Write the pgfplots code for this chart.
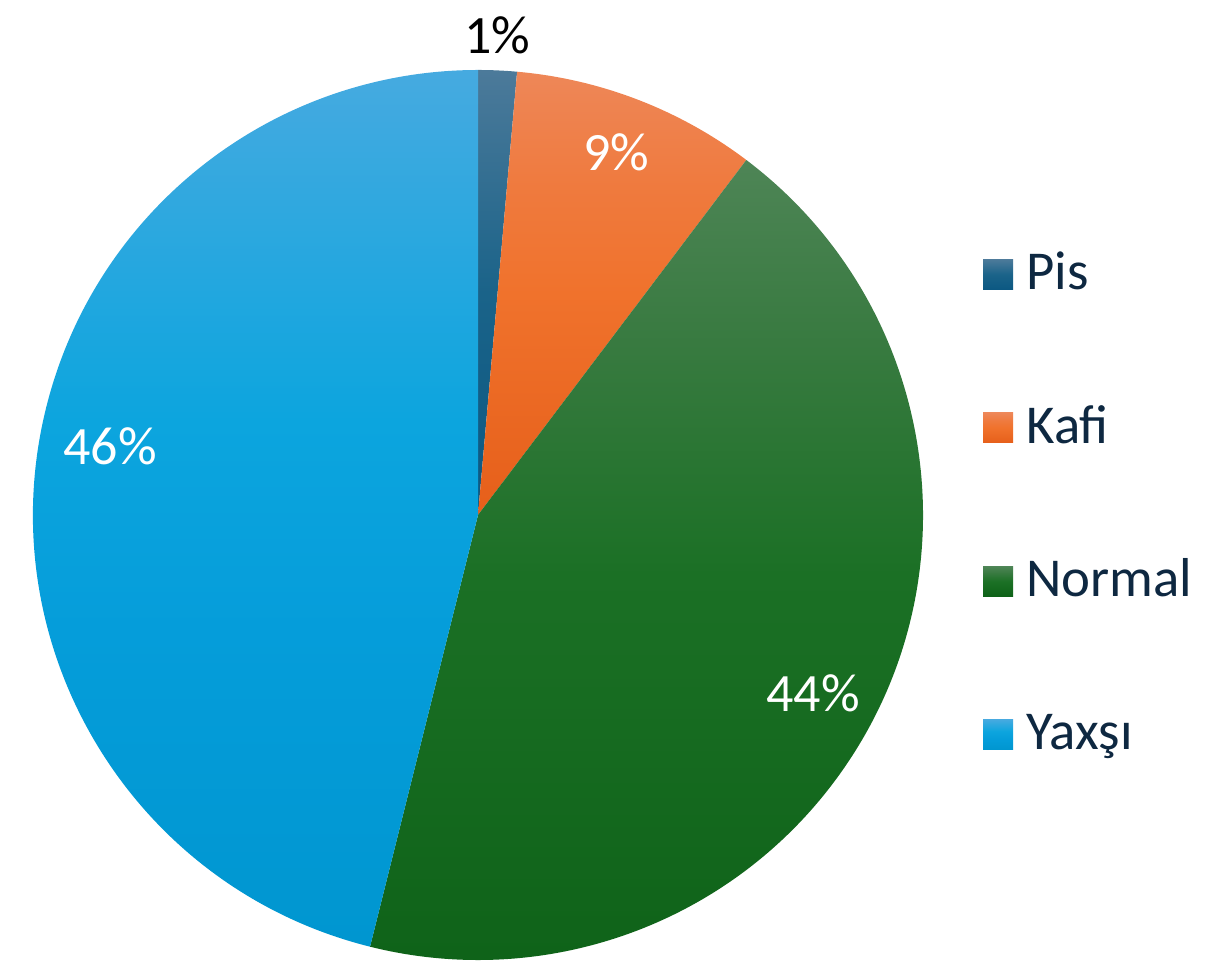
\documentclass[border=0pt]{standalone}
\usepackage{pgfplots}
\pgfplotsset{compat=1.18}
\usepackage{pgfplotstable}
\usepackage{fontspec}
\setmainfont{Carlito}

% vertical gradients: 25bp = bottom of shape, 75bp = top of shape
\pgfdeclareverticalshading{sh0}{100bp}{color(0bp)=(rgb,255:red,12;green,88;blue,130); color(25bp)=(rgb,255:red,12;green,88;blue,130); color(50bp)=(rgb,255:red,26;green,99;blue,137); color(75bp)=(rgb,255:red,76;green,122;blue,154); color(100bp)=(rgb,255:red,76;green,122;blue,154)}
\pgfdeclareverticalshading{sh1}{100bp}{color(0bp)=(rgb,255:red,230;green,95;blue,26); color(25bp)=(rgb,255:red,230;green,95;blue,26); color(50bp)=(rgb,255:red,240;green,114;blue,44); color(62bp)=(rgb,255:red,239;green,122;blue,62); color(75bp)=(rgb,255:red,238;green,135;blue,88); color(100bp)=(rgb,255:red,238;green,135;blue,88)}
\pgfdeclareverticalshading{sh2}{100bp}{color(0bp)=(rgb,255:red,14;green,98;blue,24); color(25bp)=(rgb,255:red,14;green,98;blue,24); color(50bp)=(rgb,255:red,27;green,112;blue,37); color(65bp)=(rgb,255:red,58;green,123;blue,66); color(75bp)=(rgb,255:red,78;green,133;blue,86); color(100bp)=(rgb,255:red,78;green,133;blue,86)}
\pgfdeclareverticalshading{sh3}{100bp}{color(0bp)=(rgb,255:red,0;green,150;blue,208); color(25bp)=(rgb,255:red,0;green,150;blue,208); color(43bp)=(rgb,255:red,5;green,157;blue,218); color(55bp)=(rgb,255:red,12;green,165;blue,222); color(75bp)=(rgb,255:red,70;green,170;blue,224); color(100bp)=(rgb,255:red,70;green,170;blue,224)}

\definecolor{lbl0}{HTML}{000000}\definecolor{lbl1}{HTML}{FFFFFF}
\definecolor{lbl2}{HTML}{FFFFFF}\definecolor{lbl3}{HTML}{FFFFFF}
\definecolor{legtext}{HTML}{0E2841}

\pgfplotstableread{
name value lx ly legy
Pis 1.4 497 926 686.5
Kafi 8.9 616 809 533
Normal 43.6 813 268 379.5
Yaxşı 46.1 110 515 226.5
}\piedata

\begin{document}
\begin{tikzpicture}
\xdef\cumsum{0}
\foreach \i in {0,1,2,3}{%
  \pgfplotstablegetelem{\i}{value}\of\piedata
  \pgfmathsetmacro\myv{\pgfplotsretval}%
  \pgfmathsetmacro\myst{90-3.6*\cumsum}%
  \pgfmathsetmacro\myen{90-3.6*(\cumsum+\myv)}%
  \pgfmathtruncatemacro\mypc{round(\myv)}%
  \expandafter\xdef\csname st\i\endcsname{\myst}%
  \expandafter\xdef\csname en\i\endcsname{\myen}%
  \expandafter\xdef\csname pc\i\endcsname{\mypc}%
  \pgfplotstablegetelem{\i}{lx}\of\piedata
  \expandafter\xdef\csname lx\i\endcsname{\pgfplotsretval}%
  \pgfplotstablegetelem{\i}{ly}\of\piedata
  \expandafter\xdef\csname ly\i\endcsname{\pgfplotsretval}%
  \pgfplotstablegetelem{\i}{legy}\of\piedata
  \expandafter\xdef\csname legy\i\endcsname{\pgfplotsretval}%
  \pgfplotstablegetelem{\i}{name}\of\piedata
  \expandafter\xdef\csname nm\i\endcsname{\pgfplotsretval}%
  \pgfmathsetmacro\mynew{\cumsum+\myv}%
  \xdef\cumsum{\mynew}%
}
\begin{axis}[name=ax,x=0.5pt,y=0.5pt,xmin=0,xmax=1218,ymin=0,ymax=961,
  hide axis,clip=false]
\pgfplotsinvokeforeach{0,1,2,3}{%
  \shade[shading=sh#1]
    (axis cs:478,446) -- ++(\csname st#1\endcsname:222.5pt)
    arc[start angle=\csname st#1\endcsname,end angle=\csname en#1\endcsname,radius=222.5pt]
    -- cycle;
}
\pgfplotsinvokeforeach{0,1,2,3}{%
  \node[inner sep=0pt,anchor=center,text=lbl#1,font=\fontsize{27}{32}\selectfont]
    at (axis cs:\csname lx#1\endcsname,\csname ly#1\endcsname) {\csname pc#1\endcsname\%};
  \shade[shading=sh#1]
    (axis cs:983,\csname legy#1\endcsname-15) rectangle (axis cs:1013,\csname legy#1\endcsname+15);
  \node[inner sep=0pt,anchor=base west,text=legtext,font=\fontsize{27.4}{32}\selectfont]
    at (axis cs:1026,\csname legy#1\endcsname-15.5) {\csname nm#1\endcsname};
}
\end{axis}
\pgfresetboundingbox
\useasboundingbox (ax.south west) rectangle (ax.north east);
\end{tikzpicture}
\end{document}
